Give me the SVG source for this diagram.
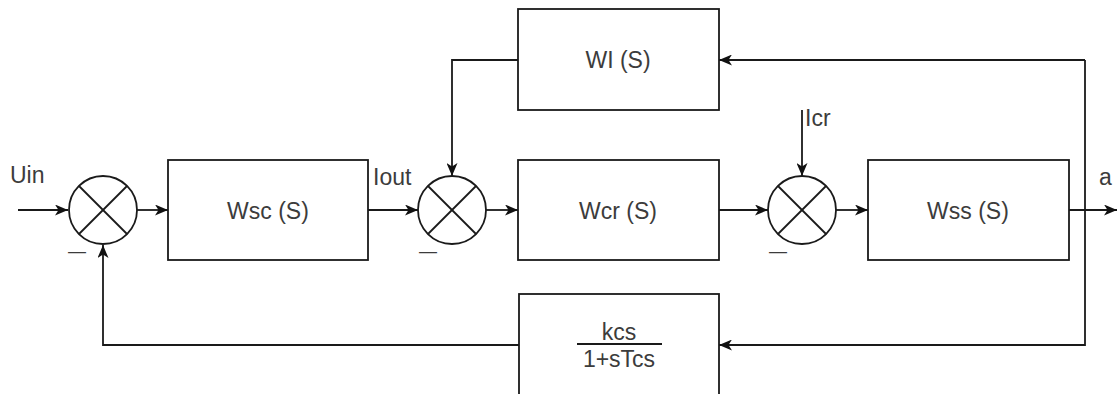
<svg xmlns="http://www.w3.org/2000/svg" width="1117" height="394" viewBox="0 0 1117 394">
<defs>
<style>
.box{fill:#fff;stroke:#1a1a1a;stroke-width:1.8}
.sum{fill:#fff;stroke:#1a1a1a;stroke-width:1.8}
.x{stroke:#1a1a1a;stroke-width:1.8}
.ln{fill:none;stroke:#1a1a1a;stroke-width:1.8}
.t{font-family:"Liberation Sans",Arial,sans-serif;font-size:23px;fill:#3c3c3c}
.c{text-anchor:middle}
.m{font-family:"Liberation Sans",Arial,sans-serif;font-size:18px;fill:#3c3c3c}
</style>
<marker id="arr" viewBox="0 0 13 11" refX="13" refY="5.5" markerWidth="13" markerHeight="11" markerUnits="userSpaceOnUse" orient="auto">
<path d="M0,0 L13,5.5 L0,11 L3.5,5.5 Z" fill="#111"/>
</marker>
</defs>
<rect width="1117" height="394" fill="#fff"/>
<g id="connectors">
<path class="ln" d="M18,210 L68,210" marker-end="url(#arr)"/>
<path class="ln" d="M137,210 L168,210" marker-end="url(#arr)"/>
<path class="ln" d="M368,210 L418,210" marker-end="url(#arr)"/>
<path class="ln" d="M486,210 L518,210" marker-end="url(#arr)"/>
<path class="ln" d="M719,210 L768,210" marker-end="url(#arr)"/>
<path class="ln" d="M836,210 L868,210" marker-end="url(#arr)"/>
<path class="ln" d="M1069,210 L1117,210" marker-end="url(#arr)"/>
<path class="ln" d="M802,110 L802,176" marker-end="url(#arr)"/>
<path class="ln" d="M518,60 L452,60 L452,176" marker-end="url(#arr)"/>
<path class="ln" d="M1085,60 L719,60" marker-end="url(#arr)"/>
<path class="ln" d="M1085,60 L1085,345 L719,345" marker-end="url(#arr)"/>
<path class="ln" d="M519,345 L103,345 L103,245" marker-end="url(#arr)"/>
</g>
<g id="sum1">
<circle class="sum" cx="103" cy="210" r="34"/>
<line class="x" x1="79" y1="186" x2="127" y2="234"/>
<line class="x" x1="127" y1="186" x2="79" y2="234"/>
<text class="m" x="68" y="257">—</text>
</g>
<g id="sum2">
<circle class="sum" cx="452" cy="210" r="34"/>
<line class="x" x1="428" y1="186" x2="476" y2="234"/>
<line class="x" x1="476" y1="186" x2="428" y2="234"/>
<text class="m" x="419" y="257">—</text>
</g>
<g id="sum3">
<circle class="sum" cx="802" cy="210" r="34"/>
<line class="x" x1="778" y1="186" x2="826" y2="234"/>
<line class="x" x1="826" y1="186" x2="778" y2="234"/>
<text class="m" x="769" y="257">—</text>
</g>
<g id="wsc">
<rect class="box" x="168" y="160" width="200" height="100"/>
<text class="t c" x="268" y="219">Wsc (S)</text>
</g>
<g id="wcr">
<rect class="box" x="518" y="160" width="201" height="100"/>
<text class="t c" x="618" y="219">Wcr (S)</text>
</g>
<g id="wss">
<rect class="box" x="868" y="160" width="201" height="100"/>
<text class="t c" x="968" y="219">Wss (S)</text>
</g>
<g id="wi">
<rect class="box" x="518" y="9" width="201" height="101"/>
<text class="t c" x="618" y="68">WI (S)</text>
</g>
<g id="kcs">
<rect class="box" x="519" y="294" width="200" height="110"/>
<text class="t c" x="619" y="340">kcs</text>
<line class="ln" x1="577" y1="344" x2="662" y2="344"/>
<text class="t c" x="619" y="367">1+sTcs</text>
</g>
<g id="labels">
<text class="t" x="10" y="183">Uin</text>
<text class="t" x="373" y="185">Iout</text>
<text class="t" x="805" y="126">Icr</text>
<text class="t" x="1099" y="185">a</text>
</g>
</svg>
